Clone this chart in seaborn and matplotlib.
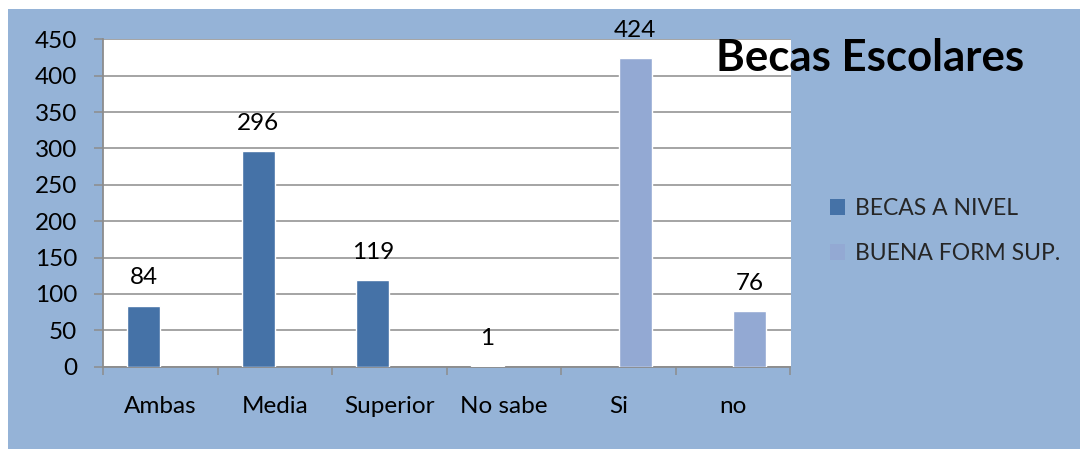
import matplotlib
matplotlib.use("Agg")
import matplotlib.pyplot as plt
from matplotlib.patches import Rectangle
import seaborn as sns
import pandas as pd

categories = ["Ambas", "Media", "Superior", "No sabe", "Si", "no"]
series_names = ["BECAS A NIVEL", "BUENA FORM SUP."]
becas_nivel = {"Ambas": 84, "Media": 296, "Superior": 119, "No sabe": 1}
buena_form = {"Si": 424, "no": 76}
y_ticks = [0, 50, 100, 150, 200, 250, 300, 350, 400, 450]
title = "Becas Escolares"

colors = ["#4572A7", "#93A9D3"]
bg = "#95B3D7"
grid_col = "#8C8C8C"

rows = [(c, series_names[0], v) for c, v in becas_nivel.items()]
rows += [(c, series_names[1], v) for c, v in buena_form.items()]
df = pd.DataFrame(rows, columns=["categoria", "serie", "valor"])

sns.set_theme(style="white")
plt.rcParams["font.family"] = ["Lato", "DejaVu Sans"]
FS = 17.5
FS_LEG = 16.5

W, H = 1080, 449
fig = plt.figure(figsize=(W / 100, H / 100), dpi=100, facecolor="white")
fig.patches.append(Rectangle((8 / W, 0), 1 - 8 / W, (H - 9) / H,
                             transform=fig.transFigure, facecolor=bg,
                             edgecolor="none", zorder=-10))

ax = fig.add_axes([103 / W, (H - 366.7) / H, (790.5 - 103) / W, (366.7 - 39.3) / H])
ax.set_facecolor("white")

sns.barplot(data=df, x="categoria", y="valor", hue="serie",
            order=categories, hue_order=series_names,
            palette=colors, width=0.576, dodge=True, ax=ax,
            saturation=1, legend=False, zorder=3)

for cont in ax.containers:
    ax.bar_label(cont, fmt="%d", padding=12.5, fontsize=FS, color="black")

ax.set_ylim(0, 450)
ax.set_xlim(-0.5, len(categories) - 0.5)
ax.set_yticks(y_ticks)
ax.set_yticklabels([str(t) for t in y_ticks], fontsize=FS, color="black")
ax.yaxis.grid(True, color=grid_col, linewidth=1.1, zorder=0)
ax.set_axisbelow(True)
ax.tick_params(axis="y", direction="out", length=6.5, width=1.1,
               color=grid_col, pad=12, left=True)
ax.tick_params(axis="x", length=0, pad=21, labelsize=FS, labelcolor="black")
ax.set_xticks(range(len(categories)))
ax.set_xticklabels(categories)
ax.set_xticks([i - 0.5 for i in range(len(categories) + 1)], minor=True)
ax.tick_params(axis="x", which="minor", direction="out", length=6,
               width=1.1, color=grid_col, bottom=True)
ax.set_xlabel("")
ax.set_ylabel("")
for s in ["top", "right"]:
    ax.spines[s].set_visible(False)
for s in ["left", "bottom"]:
    ax.spines[s].set_color(grid_col)
    ax.spines[s].set_linewidth(1.3)

handles = [Rectangle((0, 0), 1, 1, facecolor=c, edgecolor="none") for c in colors]
fig.legend(handles, series_names, loc="center left",
           bbox_to_anchor=(830 / W, (H - 231) / H), frameon=False,
           fontsize=FS_LEG, handlelength=0.65, handleheight=0.65,
           handletextpad=0.45, labelspacing=1.05, borderpad=0,
           borderaxespad=0)

fig.text(870 / W, (H - 58) / H, title, ha="center", va="center",
         fontsize=31.5, fontweight="bold", color="black")

fig.savefig("out.png", dpi=100, facecolor="white")
